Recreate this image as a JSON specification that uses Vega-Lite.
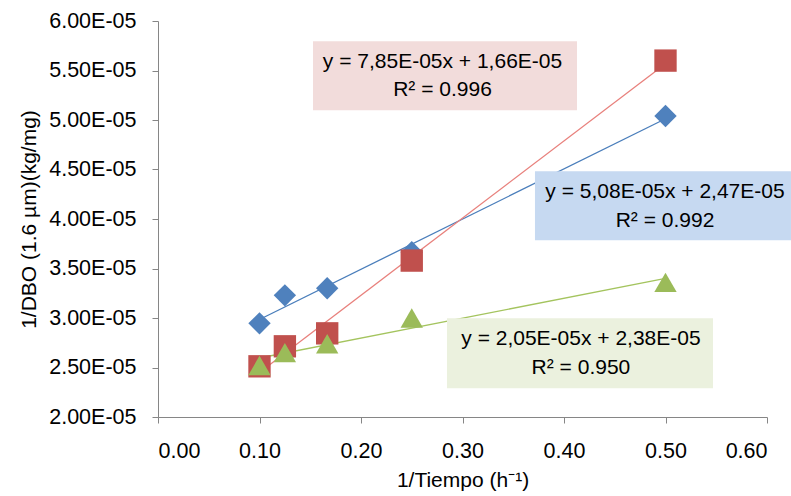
{
  "$schema": "https://vega.github.io/schema/vega-lite/v6.json",
  "width": 609,
  "height": 396,
  "autosize": {"type": "none"},
  "padding": {"left": 158, "top": 21, "right": 24, "bottom": 79},
  "background": "white",
  "config": {
    "font": "Liberation Sans",
    "view": {"stroke": null},
    "axis": {
      "grid": false,
      "domainColor": "#868686",
      "tickColor": "#868686",
      "labelFont": "Liberation Sans",
      "titleFont": "Liberation Sans",
      "labelFontSize": 21.5,
      "titleFontSize": 21,
      "titleFontWeight": "normal",
      "labelColor": "#000000",
      "titleColor": "#000000",
      "tickSize": 6
    }
  },
  "datasets": {
    "points": [
      {"series": "Serie 1", "x": 0.1, "y": 0.00002946},
      {"series": "Serie 1", "x": 0.125, "y": 0.00003229},
      {"series": "Serie 1", "x": 0.1667, "y": 0.0000330},
      {"series": "Serie 1", "x": 0.25, "y": 0.00003664},
      {"series": "Serie 1", "x": 0.5, "y": 0.00005040},
      {"series": "Serie 2", "x": 0.1, "y": 0.00002512},
      {"series": "Serie 2", "x": 0.125, "y": 0.00002714},
      {"series": "Serie 2", "x": 0.1667, "y": 0.00002845},
      {"series": "Serie 2", "x": 0.25, "y": 0.00003580},
      {"series": "Serie 2", "x": 0.5, "y": 0.00005600},
      {"series": "Serie 3", "x": 0.1, "y": 0.00002520},
      {"series": "Serie 3", "x": 0.125, "y": 0.00002650},
      {"series": "Serie 3", "x": 0.1667, "y": 0.00002740},
      {"series": "Serie 3", "x": 0.25, "y": 0.00003000},
      {"series": "Serie 3", "x": 0.5, "y": 0.00003360}
    ],
    "boxes": [
      {"series": "Serie 2", "x1": 0.1527, "x2": 0.4128, "y1": 0.00005795, "y2": 0.00005098},
      {"series": "Serie 1", "x1": 0.3714, "x2": 0.6236, "y1": 0.00004482, "y2": 0.00003785},
      {"series": "Serie 3", "x1": 0.2847, "x2": 0.5468, "y1": 0.00002997, "y2": 0.00002290}
    ],
    "labels": [
      {"x": 0.2803, "y": 0.00005588, "text": "y = 7,85E-05x + 1,66E-05"},
      {"x": 0.2803, "y": 0.00005300, "text": "R² = 0.996"},
      {"x": 0.4995, "y": 0.00004270, "text": "y = 5,08E-05x + 2,47E-05"},
      {"x": 0.4995, "y": 0.00003977, "text": "R² = 0.992"},
      {"x": 0.4167, "y": 0.00002785, "text": "y = 2,05E-05x + 2,38E-05"},
      {"x": 0.4167, "y": 0.00002492, "text": "R² = 0.950"}
    ]
  },
  "layer": [
    {
      "data": {"name": "points"},
      "transform": [
        {"regression": "y", "on": "x", "groupby": ["series"], "extent": [0.1, 0.5]}
      ],
      "mark": {"type": "line", "strokeWidth": 1.3},
      "encoding": {
        "x": {
          "field": "x", "type": "quantitative", "title": "1/Tiempo (h⁻¹)",
          "scale": {"domain": [0, 0.6], "nice": false, "zero": false},
          "axis": {
            "values": [0, 0.1, 0.2, 0.3, 0.4, 0.5, 0.6],
            "format": ".2f",
            "labelPadding": 17,
            "titlePadding": 8
          }
        },
        "y": {
          "field": "y", "type": "quantitative", "title": "1/DBO (1.6 µm)(kg/mg)",
          "scale": {"domain": [0.00002, 0.00006], "nice": false, "zero": false},
          "axis": {
            "values": [0.00002, 0.000025, 0.00003, 0.000035, 0.00004, 0.000045, 0.00005, 0.000055, 0.00006],
            "labelExpr": "format(datum.value*100000, '.2f') + 'E-05'",
            "labelPadding": 16,
            "titlePadding": 9
          }
        },
        "detail": {"field": "series"},
        "color": {
          "field": "series", "type": "nominal",
          "scale": {"domain": ["Serie 1", "Serie 2", "Serie 3"], "range": ["#4A7EBB", "#E8807C", "#A4C45E"]},
          "legend": null
        }
      }
    },
    {
      "data": {"name": "points"},
      "mark": {"type": "point", "filled": true, "opacity": 1, "size": 500},
      "encoding": {
        "x": {"field": "x", "type": "quantitative", "title": "1/Tiempo (h⁻¹)", "scale": {"domain": [0, 0.6], "nice": false, "zero": false}},
        "y": {"field": "y", "type": "quantitative", "title": "1/DBO (1.6 µm)(kg/mg)", "scale": {"domain": [0.00002, 0.00006], "nice": false, "zero": false}},
        "shape": {
          "field": "series", "type": "nominal",
          "scale": {"domain": ["Serie 1", "Serie 2", "Serie 3"], "range": ["diamond", "square", "triangle-up"]},
          "legend": null
        },
        "color": {
          "field": "series", "type": "nominal",
          "scale": {"domain": ["Serie 1", "Serie 2", "Serie 3"], "range": ["#4F81BD", "#C0504D", "#9BBB59"]},
          "legend": null
        }
      }
    },
    {
      "data": {"name": "boxes"},
      "mark": {"type": "rect"},
      "encoding": {
        "x": {"field": "x1", "type": "quantitative", "title": "1/Tiempo (h⁻¹)", "scale": {"domain": [0, 0.6], "nice": false, "zero": false}},
        "x2": {"field": "x2"},
        "y": {"field": "y1", "type": "quantitative", "title": "1/DBO (1.6 µm)(kg/mg)", "scale": {"domain": [0.00002, 0.00006], "nice": false, "zero": false}},
        "y2": {"field": "y2"},
        "color": {
          "field": "series", "type": "nominal",
          "scale": {"domain": ["Serie 1", "Serie 2", "Serie 3"], "range": ["#C6D9F1", "#F2DCDB", "#EBF1DE"]},
          "legend": null
        }
      }
    },
    {
      "data": {"name": "labels"},
      "mark": {"type": "text", "fontSize": 21, "font": "Liberation Sans", "align": "center", "baseline": "middle", "color": "#000000"},
      "encoding": {
        "x": {"field": "x", "type": "quantitative", "title": "1/Tiempo (h⁻¹)", "scale": {"domain": [0, 0.6], "nice": false, "zero": false}},
        "y": {"field": "y", "type": "quantitative", "title": "1/DBO (1.6 µm)(kg/mg)", "scale": {"domain": [0.00002, 0.00006], "nice": false, "zero": false}},
        "text": {"field": "text"}
      }
    }
  ],
  "resolve": {"scale": {"color": "independent"}}
}
